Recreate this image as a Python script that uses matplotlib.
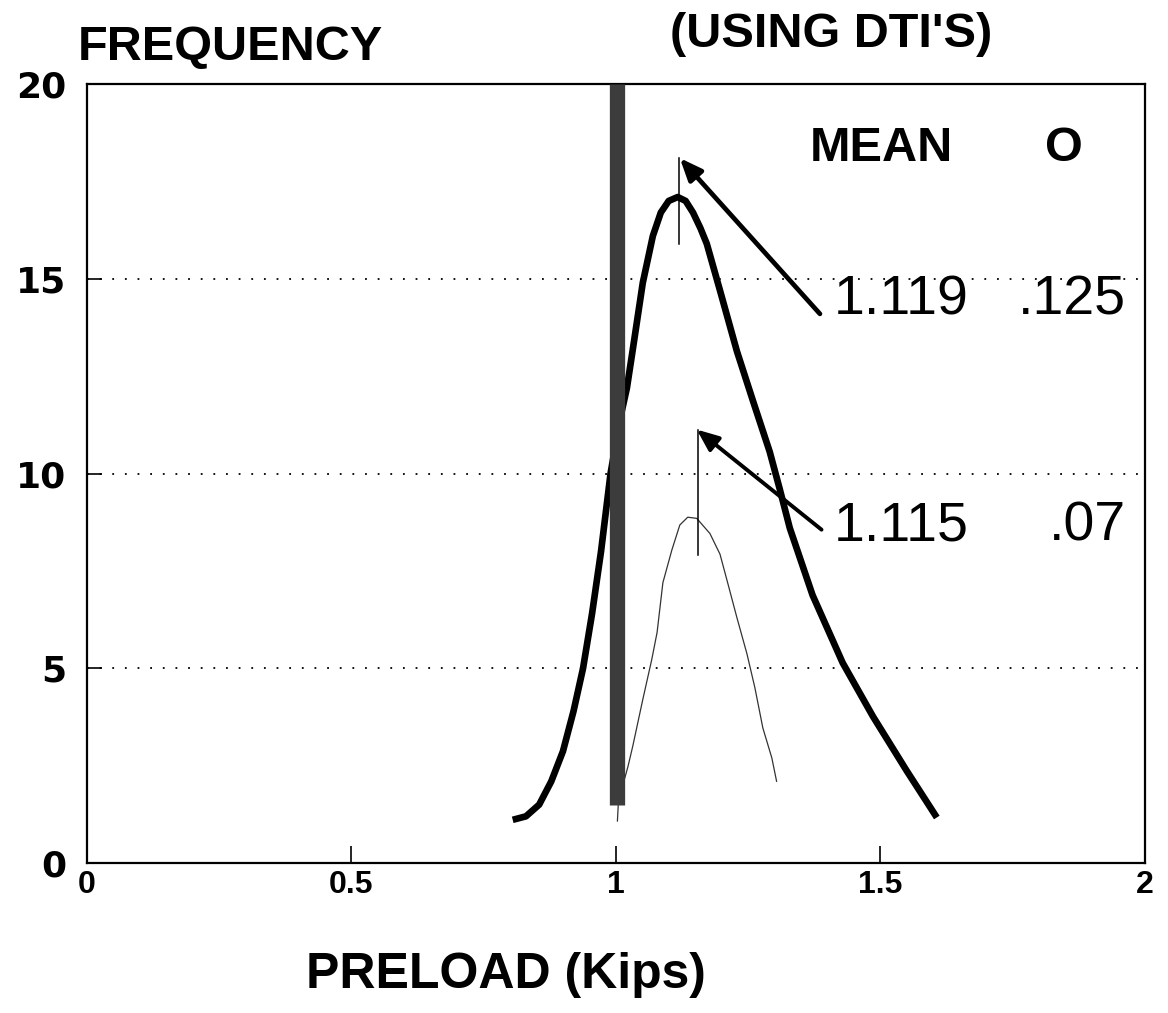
import numpy as np
import matplotlib.pyplot as plt

fontname = 'Liberation Sans'

# wide distribution (mean 1.119, sigma .125)
wide_x = [0.805, 0.830, 0.855, 0.878, 0.900, 0.920, 0.938, 0.955, 0.972, 0.990,
          1.008, 1.021, 1.032, 1.051, 1.070, 1.085, 1.100, 1.117, 1.132, 1.146,
          1.160, 1.172, 1.197, 1.229, 1.259, 1.291, 1.310, 1.329, 1.372, 1.429,
          1.486, 1.550, 1.607]
wide_y = [1.11, 1.2, 1.5, 2.1, 2.87, 3.9, 5.0, 6.4, 8.0, 10.0,
          11.4, 12.2, 13.18, 14.9, 16.1, 16.7, 17.0, 17.1, 17.0, 16.7,
          16.3, 15.9, 14.7, 13.14, 11.88, 10.56, 9.6, 8.6, 6.88, 5.14,
          3.77, 2.37, 1.17]

# narrow distribution (mean 1.115, sigma .07)
narrow_x = [1.003, 1.005, 1.023, 1.032, 1.051, 1.068, 1.078, 1.089, 1.106, 1.121,
            1.136, 1.153, 1.178, 1.197, 1.212, 1.229, 1.248, 1.263, 1.278, 1.295,
            1.304]
narrow_y = [1.08, 1.6, 2.48, 3.0, 4.2, 5.23, 5.92, 7.2, 8.04, 8.68,
            8.88, 8.85, 8.46, 7.93, 7.17, 6.3, 5.37, 4.5, 3.47, 2.7,
            2.1]

# nominal preload bar
bar_x = 1.002
bar_y = [1.5, 20]

# mean markers, arrows and labels
mean_lines = [(1.119, 15.9, 18.1), (1.155, 7.92, 11.13)]
arrows = [((1.121, 18.1), (1.386, 14.1), 3.4), ((1.153, 11.13), (1.389, 8.56), 2.8)]
stats = [('1.119', '.125', 14.45), ('1.115', '.07', 8.65)]

xticks = [0, 0.5, 1, 1.5, 2]
xticklabels = ['0', '0.5', '1', '1.5', '2']
yticks = [0, 5, 10, 15, 20]

fig = plt.figure(figsize=(11.68, 10.13), dpi=100)
ax = fig.add_axes([0.0745, 0.148, 0.9055, 0.769])

ax.set_xlim(0, 2)
ax.set_ylim(0, 20)

for yv in [5, 10, 15]:
    ax.axhline(yv, color='black', lw=1.3, ls=(0, (1, 6)), zorder=1)

ax.plot(narrow_x, narrow_y, color='#333333', lw=0.9, zorder=2)
ax.plot(wide_x, wide_y, color='black', lw=4.8, solid_capstyle='butt',
        solid_joinstyle='round', zorder=3)
ax.plot([bar_x, bar_x], bar_y, color='#3c3c3c', lw=11, solid_capstyle='butt', zorder=4)

for mx, y0, y1 in mean_lines:
    ax.plot([mx, mx], [y0, y1], color='black', lw=1.1, zorder=5)

for head, tail, w in arrows:
    ax.annotate('', xy=head, xytext=tail,
                arrowprops=dict(arrowstyle='-|>,head_length=0.6,head_width=0.25',
                                lw=w, color='black', shrinkA=0, shrinkB=0,
                                mutation_scale=22),
                zorder=6)

ax.text(1.367, 18.35, 'MEAN', fontsize=35, fontweight='bold', fontname=fontname,
        ha='left', va='center')
ax.text(1.811, 18.35, 'O', fontsize=35, fontweight='bold', fontname=fontname,
        ha='left', va='center')
for mean_s, sig_s, yv in stats:
    ax.text(1.412, yv, mean_s, fontsize=40, fontname=fontname, ha='left', va='center')
    ax.text(1.964, yv, sig_s, fontsize=40, fontname=fontname, ha='right', va='center')

ax.set_xticks(xticks)
ax.set_xticklabels(xticklabels, fontsize=23, fontweight='bold', fontname=fontname)
ax.set_yticks(yticks)
ax.set_yticklabels([str(v) for v in yticks], fontsize=26, fontweight='bold',
                   fontname='DejaVu Sans')
ax.tick_params(axis='x', direction='in', length=12, width=1.2, pad=5)
ax.tick_params(axis='y', direction='in', length=11, width=1.2, pad=15)
for s in ax.spines.values():
    s.set_linewidth(1.6)

fig.text(0.0668, 0.9536, 'FREQUENCY', fontsize=35, fontweight='bold', fontname=fontname,
         ha='left', va='center')
fig.text(0.5736, 0.9655, "(USING DTI'S)", fontsize=35, fontweight='bold', fontname=fontname,
         ha='left', va='center')
fig.text(0.433, 0.0375, 'PRELOAD (Kips)', fontsize=36, fontweight='bold', fontname=fontname,
         ha='center', va='center')

plt.savefig('out.png', dpi=100)
